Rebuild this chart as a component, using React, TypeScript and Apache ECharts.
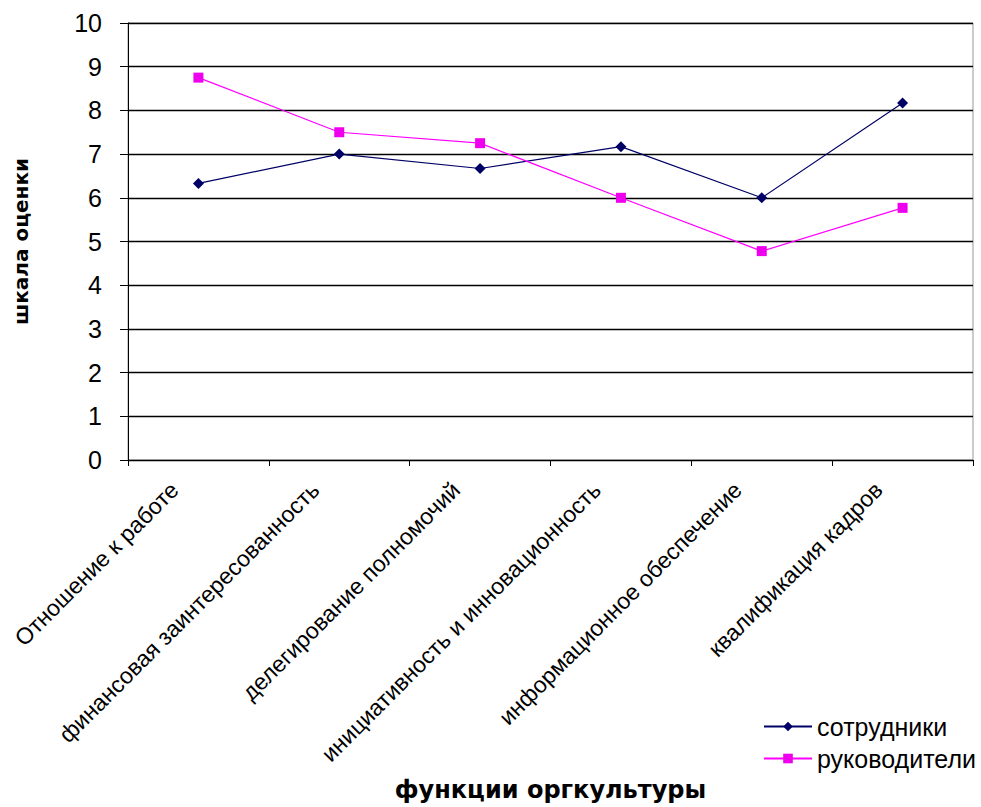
import React, { useEffect, useRef } from "react";
import * as echarts from "echarts";

const categories = [
  "Отношение к работе",
  "финансовая заинтересованность",
  "делегирование полномочий",
  "инициативность и инновационность",
  "информационное обеспечение",
  "квалификация кадров",
];
const employees = [6.33, 7.0, 6.67, 7.17, 6.0, 8.17];
const managers = [8.75, 7.5, 7.25, 6.0, 4.78, 5.77];
const seriesNames = ["сотрудники", "руководители"];
const yTicks = { min: 0, max: 10, interval: 1 };

export default function App() {
  const ref = useRef<HTMLDivElement>(null);
  useEffect(() => {
    if (!ref.current) return;
    const chart = echarts.init(ref.current, null, { renderer: "svg" });
    const font = "'Liberation Sans', Arial, sans-serif";
    const boldFont = "'DejaVu Sans', 'Liberation Sans', sans-serif";
    chart.setOption({
      animation: false,
      backgroundColor: "#ffffff",
      grid: {
        left: 128,
        right: 8,
        top: 23,
        bottom: 337,
        show: true,
        borderColor: "#999",
        borderWidth: 1,
        backgroundColor: "transparent",
      },
      legend: {
        orient: "vertical",
        left: 758,
        top: 709,
        itemWidth: 48,
        itemHeight: 12,
        itemGap: 7,
        textStyle: { fontFamily: font, fontSize: 25, color: "#000" },
        data: seriesNames,
      },
      xAxis: {
        type: "category",
        data: categories,
        boundaryGap: true,
        axisLine: { lineStyle: { color: "#000", width: 1 } },
        axisTick: { show: true, length: 6, lineStyle: { color: "#000" } },
        axisLabel: {
          interval: 0,
          rotate: 45,
          margin: 2,
          padding: [0, 34, 0, 0],
          fontFamily: font,
          fontSize: 23,
          color: "#000",
        },
        name: "функции оргкультуры",
        nameLocation: "middle",
        nameGap: 318,
        nameTextStyle: {
          fontFamily: boldFont,
          fontSize: 24,
          fontWeight: "bold",
          color: "#000",
        },
      },
      yAxis: {
        type: "value",
        min: yTicks.min,
        max: yTicks.max,
        interval: yTicks.interval,
        axisLine: { show: true, lineStyle: { color: "#000", width: 1 } },
        axisTick: { show: true, length: 8, lineStyle: { color: "#000" } },
        splitLine: { show: true, lineStyle: { color: "#000", width: 1.3 } },
        axisLabel: {
          margin: 26,
          fontFamily: font,
          fontSize: 25,
          color: "#000",
        },
        name: "шкала оценки",
        nameLocation: "middle",
        nameRotate: 90,
        nameGap: 97,
        nameTextStyle: {
          fontFamily: boldFont,
          fontSize: 20,
          fontWeight: "bold",
          color: "#000",
        },
      },
      series: [
        {
          name: seriesNames[0],
          type: "line",
          data: employees,
          symbol: "diamond",
          symbolSize: 11,
          lineStyle: { color: "#000066", width: 1.2 },
          itemStyle: { color: "#000066" },
        },
        {
          name: seriesNames[1],
          type: "line",
          data: managers,
          symbol: "rect",
          symbolSize: 10,
          lineStyle: { color: "#ff00ff", width: 1.2 },
          itemStyle: { color: "#ee00ee" },
        },
      ],
    });
    return () => chart.dispose();
  }, []);
  return (
    <div
      ref={ref}
      style={{ position: "fixed", left: 0, top: 0, width: 981, height: 807, background: "#fff" }}
    />
  );
}
